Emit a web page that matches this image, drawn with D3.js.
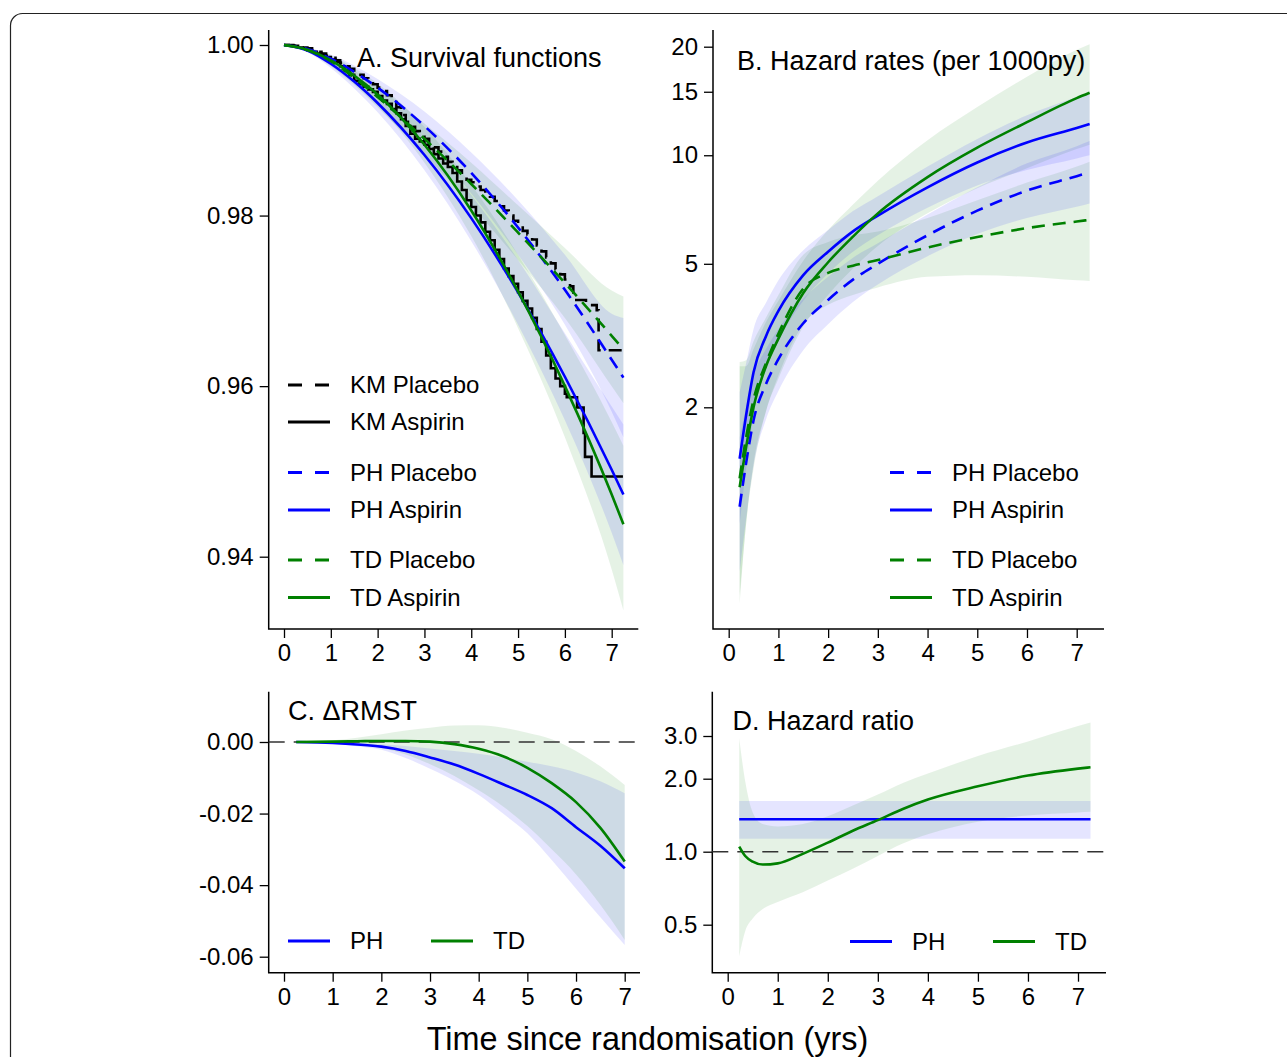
<!DOCTYPE html>
<meta charset="utf-8">
<style>
  body { margin: 0; background: #fff; }
  svg { font-family: "Liberation Sans", Arial, sans-serif; }
</style>
<svg width="1287" height="1057"></svg>
<script src="https://cdn.jsdelivr.net/npm/d3@7/dist/d3.min.js"></script>
<script>
    // ---------- data ----------
    // A. survival functions
    var survTime = [0, 0.5, 1, 1.5, 2, 3, 4, 5, 6, 7, 7.25];
    var phAspS   = [1, 0.99935, 0.9978, 0.99571, 0.9932, 0.9871, 0.9797, 0.9710, 0.9611, 0.9502, 0.9473];
    var phAspLo  = [1, 0.99915, 0.9973, 0.9949, 0.9921, 0.9853, 0.9770, 0.9672, 0.9560, 0.9428, 0.9390];
    var phAspHi  = [1, 0.99955, 0.9983, 0.9965, 0.9943, 0.9889, 0.9824, 0.9748, 0.9662, 0.9576, 0.9555];
    var phPlaS   = [1, 0.99952, 0.9984, 0.99684, 0.9950, 0.9905, 0.9850, 0.9786, 0.9713, 0.9631, 0.9610];
    var phPlaLo  = [1, 0.99935, 0.9979, 0.9961, 0.9940, 0.9888, 0.9826, 0.9754, 0.9672, 0.9570, 0.9540];
    var phPlaHi  = [1, 0.99969, 0.9989, 0.9976, 0.9960, 0.9922, 0.9874, 0.9818, 0.9754, 0.9685, 0.9680];
    var tdAspS   = [1, 0.99945, 0.9982, 0.99643, 0.9942, 0.9883, 0.9806, 0.9711, 0.9600, 0.9473, 0.9438];
    var tdAspLo  = [1, 0.9992, 0.9976, 0.9955, 0.9929, 0.9862, 0.9776, 0.9668, 0.9540, 0.9385, 0.9337];
    var tdAspHi  = [1, 0.9997, 0.9988, 0.9973, 0.9955, 0.9904, 0.9836, 0.9754, 0.9660, 0.9558, 0.9530];
    var tdPlaS   = [1, 0.9994, 0.9981, 0.99617, 0.9939, 0.9890, 0.9837, 0.9780, 0.9721, 0.9659, 0.9643];
    var tdPlaLo  = [1, 0.9992, 0.9975, 0.9953, 0.9927, 0.9872, 0.9812, 0.9748, 0.9680, 0.9600, 0.9580];
    var tdPlaHi  = [1, 0.9996, 0.9987, 0.9970, 0.9951, 0.9908, 0.9862, 0.9812, 0.9762, 0.9712, 0.9705];

    // Kaplan-Meier steps [time, survival]
    var kmAspirin = [[0,1],[0.1,0.99995],[0.2,0.9999],[0.3,0.9997],[0.4,0.9996],[0.5,0.9994],[0.6,0.9992],
        [0.7,0.9990],[0.8,0.9988],[0.9,0.9986],[1.0,0.9983],[1.1,0.9980],[1.2,0.9975],[1.3,0.9970],
        [1.4,0.9965],[1.5,0.9958],[1.6,0.9954],[1.7,0.9951],[1.8,0.9948],[1.9,0.9945],[2.0,0.9940],
        [2.1,0.9935],[2.2,0.9931],[2.3,0.9925],[2.4,0.9920],[2.5,0.9913],[2.6,0.9905],[2.7,0.9896],
        [2.8,0.9890],[2.9,0.9887],[3.0,0.9883],[3.1,0.9878],[3.2,0.9872],[3.3,0.9867],[3.4,0.9861],
        [3.5,0.9857],[3.6,0.9850],[3.7,0.9840],[3.8,0.9830],[3.9,0.9818],[4.0,0.9810],[4.1,0.9800],
        [4.2,0.9792],[4.3,0.9781],[4.4,0.9771],[4.5,0.9760],[4.6,0.9749],[4.7,0.9738],[4.8,0.9729],
        [4.9,0.9720],[5.0,0.9710],[5.1,0.9700],[5.2,0.9691],[5.3,0.9680],[5.4,0.9667],[5.5,0.9652],
        [5.6,0.9636],[5.7,0.9621],[5.8,0.9609],[5.9,0.9600],[6.0,0.9591],[6.04,0.9587],[6.26,0.9575],
        [6.40,0.9545],[6.43,0.9517],[6.57,0.9494],[7.24,0.9494]];
    var kmPlacebo = [[0,1],[0.1,0.99998],[0.2,0.9999],[0.3,0.9998],[0.4,0.9997],[0.5,0.9996],[0.6,0.9994],
        [0.7,0.9992],[0.8,0.9990],[0.9,0.9987],[1.0,0.9985],[1.1,0.9982],[1.2,0.9979],[1.3,0.9975],
        [1.4,0.9972],[1.5,0.9968],[1.6,0.9965],[1.7,0.9961],[1.8,0.9957],[1.9,0.9954],[2.0,0.9950],
        [2.1,0.9946],[2.2,0.9941],[2.3,0.9935],[2.4,0.9927],[2.5,0.9918],[2.6,0.9910],[2.7,0.9904],
        [2.8,0.9899],[2.9,0.9895],[3.0,0.9890],[3.1,0.9885],[3.2,0.9880],[3.3,0.9875],[3.4,0.9869],
        [3.5,0.9863],[3.6,0.9859],[3.7,0.9853],[3.8,0.9848],[3.9,0.9842],[4.0,0.9839],[4.1,0.9834],
        [4.2,0.9830],[4.3,0.9826],[4.4,0.9822],[4.5,0.9817],[4.6,0.9811],[4.7,0.9806],[4.8,0.9800],
        [4.9,0.9794],[5.0,0.9788],[5.1,0.9782],[5.2,0.9778],[5.3,0.9772],[5.4,0.9765],[5.5,0.9758],
        [5.6,0.9751],[5.7,0.9744],[5.8,0.9737],[5.9,0.9731],[6.0,0.9725],[6.11,0.9717],[6.18,0.9701],
        [6.45,0.9695],[6.68,0.9689],[6.72,0.9642],[7.25,0.9642]];

    // B. hazard rates per 1000py
    var hazTime  = [0.22, 0.35, 0.5, 0.75, 1, 1.5, 2, 2.5, 3, 4, 5, 6, 7, 7.26];
    var hzPhAsp   = [1.44, 1.9, 2.5, 3.15, 3.7, 4.65, 5.4, 6.15, 6.8, 8.15, 9.55, 10.85, 11.9, 12.2];
    var hzPhAspLo = [0.95, 1.35, 1.9, 2.55, 3.05, 3.95, 4.7, 5.4, 6.0, 7.15, 8.25, 9.1, 9.8, 10.0];
    var hzPhAspHi = [2.2, 2.65, 3.3, 3.9, 4.5, 5.45, 6.2, 7.0, 7.7, 9.3, 11.1, 12.9, 14.5, 14.9];
    var hzPhPla   = [1.06, 1.4, 1.84, 2.32, 2.72, 3.42, 3.97, 4.52, 5.0, 6.0, 7.02, 7.98, 8.75, 8.97];
    var hzPhPlaLo = [0.7, 0.98, 1.38, 1.85, 2.22, 2.88, 3.4, 3.92, 4.38, 5.25, 6.05, 6.7, 7.2, 7.35];
    var hzPhPlaHi = [1.65, 2.0, 2.45, 2.9, 3.3, 4.0, 4.6, 5.2, 5.7, 6.85, 8.15, 9.5, 10.6, 10.95];
    var hzTdAsp   = [1.2, 1.55, 2.0, 2.6, 3.1, 4.15, 5.05, 5.95, 6.9, 8.7, 10.5, 12.35, 14.4, 14.9];
    var hzTdAspLo = [0.6, 0.95, 1.35, 1.95, 2.4, 3.35, 4.1, 4.85, 5.6, 6.9, 8.1, 9.2, 10.4, 10.7];
    var hzTdAspHi = [2.6, 2.6, 2.9, 3.45, 3.95, 5.1, 6.2, 7.3, 8.5, 11.0, 13.6, 16.5, 19.6, 20.3];
    var hzTdPla   = [1.27, 1.65, 2.1, 2.65, 3.2, 4.27, 4.72, 4.94, 5.12, 5.55, 5.93, 6.28, 6.55, 6.62];
    var hzTdPlaLo = [0.57, 0.95, 1.4, 1.95, 2.45, 3.4, 3.85, 4.1, 4.3, 4.6, 4.65, 4.6, 4.5, 4.48];
    var hzTdPlaHi = [2.67, 2.7, 3.05, 3.55, 4.1, 5.3, 5.75, 6.0, 6.15, 6.7, 7.5, 8.4, 9.3, 9.6];

    // C. difference in RMST
    var rmstTime = [0.25, 1, 1.5, 2, 2.5, 3, 3.5, 4, 4.5, 5, 5.5, 6, 6.5, 7];
    var rmstPh   = [0, -0.0003, -0.0007, -0.0013, -0.0025, -0.0043, -0.0063, -0.0089, -0.0118, -0.0148, -0.0185, -0.0238, -0.0290, -0.0353];
    var rmstPhLo = [0, -0.0005, -0.0012, -0.0022, -0.0045, -0.0075, -0.0108, -0.0148, -0.0200, -0.0255, -0.0330, -0.0410, -0.0490, -0.0567];
    var rmstPhHi = [0, -0.0001, -0.0003, -0.0006, -0.0011, -0.0018, -0.0025, -0.0033, -0.0043, -0.0055, -0.0068, -0.0085, -0.0110, -0.0143];
    var rmstTd   = [0, 0.0001, 0.0002, 0.0003, 0.0003, 0.0001, -0.0006, -0.0019, -0.0040, -0.0072, -0.0115, -0.0168, -0.0240, -0.0334];
    var rmstTdLo = [0, -0.0003, -0.0008, -0.0017, -0.0035, -0.0062, -0.0095, -0.0135, -0.0180, -0.0235, -0.0300, -0.0370, -0.0455, -0.0553];
    var rmstTdHi = [0, 0.0005, 0.0012, 0.0022, 0.0032, 0.0040, 0.0046, 0.0047, 0.0040, 0.0026, 0.0008, -0.0025, -0.0068, -0.0120];

    // D. hazard ratio
    var hrPhTime = [0.23, 7.25];
    var hrPh     = [1.36, 1.36];
    var hrPhLo   = [1.13, 1.13];
    var hrPhHi   = [1.62, 1.62];
    var hrTdTime = [0.23, 0.35, 0.5, 0.7, 1, 1.5, 2, 2.5, 3, 3.5, 4, 5, 6, 7, 7.25];
    var hrTd     = [1.05, 0.96, 0.91, 0.885, 0.895, 0.98, 1.09, 1.22, 1.35, 1.5, 1.64, 1.86, 2.06, 2.2, 2.23];
    var hrTdLo   = [0.37, 0.47, 0.53, 0.58, 0.62, 0.68, 0.76, 0.85, 0.96, 1.08, 1.18, 1.33, 1.41, 1.45, 1.46];
    var hrTdHi   = [2.94, 1.95, 1.45, 1.3, 1.27, 1.3, 1.4, 1.55, 1.72, 1.92, 2.1, 2.48, 2.85, 3.3, 3.41];

    // ticks
    var xTicks = [0, 1, 2, 3, 4, 5, 6, 7];
    var yTicksA = [1.00, 0.98, 0.96, 0.94], yLabelsA = ['1.00', '0.98', '0.96', '0.94'];
    var yTicksB = [20, 15, 10, 5, 2], yLabelsB = ['20', '15', '10', '5', '2'];
    var yTicksC = [0, -0.02, -0.04, -0.06], yLabelsC = ['0.00', '-0.02', '-0.04', '-0.06'];
    var yTicksD = [3, 2, 1, 0.5], yLabelsD = ['3.0', '2.0', '1.0', '0.5'];

    // ---------- drawing ----------
    var BLUE = '#0000ff', GREEN = '#008000';
    var svg = d3.select('svg');

    // outer rounded frame
    svg.append('rect')
        .attr('x', 10.5).attr('y', 13.5).attr('width', 1320).attr('height', 1100)
        .attr('rx', 12).attr('fill', 'none').attr('stroke', '#222').attr('stroke-width', 1.2);

    function zip(t, v) { return t.map(function (d, i) { return [d, v[i]]; }); }
    function zip3(t, lo, hi) { return t.map(function (d, i) { return [d, lo[i], hi[i]]; }); }

    // one panel: frame, axes and helpers
    function makePanel(box, x, y, yTicks, yLabels) {
        var g = svg.append('g');
        g.append('g').attr('transform', 'translate(' + box.x0 + ',0)')
            .call(d3.axisLeft(y).tickValues(yTicks).tickFormat(function (d, i) { return yLabels[i]; })
                .tickSize(9).tickPadding(6).tickSizeOuter(0))
            .call(styleAxis);
        g.append('g').attr('transform', 'translate(0,' + box.y1 + ')')
            .call(d3.axisBottom(x).tickValues(xTicks).tickFormat(d3.format('d'))
                .tickSize(9).tickPadding(6).tickSizeOuter(0))
            .call(styleAxis);
        g.append('path')
            .attr('d', 'M' + box.x0 + ',' + box.y0 + 'V' + box.y1 + 'H' + box.x1)
            .attr('fill', 'none').attr('stroke', '#000').attr('stroke-width', 1.5);
        var plot = g.append('g');
        return {
            band: function (data, color) {
                plot.append('path').datum(data)
                    .attr('fill', color).attr('fill-opacity', 0.1).attr('stroke', 'none')
                    .attr('d', d3.area().curve(d3.curveMonotoneX)
                        .x(function (d) { return x(d[0]); })
                        .y0(function (d) { return y(d[1]); })
                        .y1(function (d) { return y(d[2]); }));
            },
            line: function (data, color, dashed, curve) {
                plot.append('path').datum(data)
                    .attr('fill', 'none').attr('stroke', color).attr('stroke-width', 2.6)
                    .attr('stroke-dasharray', dashed ? '13,8' : null)
                    .attr('d', d3.line().curve(curve || d3.curveMonotoneX)
                        .x(function (d) { return x(d[0]); })
                        .y(function (d) { return y(d[1]); }));
            },
            refLine: function (v) {
                plot.append('line')
                    .attr('x1', box.x0).attr('x2', box.x1).attr('y1', y(v)).attr('y2', y(v))
                    .attr('stroke', '#333').attr('stroke-width', 1.5).attr('stroke-dasharray', '16,9');
            }
        };
    }

    function styleAxis(a) {
        a.select('.domain').remove();
        a.attr('font-size', 24).attr('font-family', '"Liberation Sans", Arial, sans-serif');
        a.selectAll('.tick line').attr('stroke', '#000').attr('stroke-width', 1.3);
        a.selectAll('.tick text').attr('fill', '#000');
    }

    function title(txt, x, y) {
        svg.append('text').attr('x', x).attr('y', y).attr('font-size', 27).text(txt);
    }

    function legend(items) {
        items.forEach(function (it) {
            svg.append('line')
                .attr('x1', it.x).attr('x2', it.x + 42).attr('y1', it.y).attr('y2', it.y)
                .attr('stroke', it.color).attr('stroke-width', 3)
                .attr('stroke-dasharray', it.dashed ? '14,13' : null);
            svg.append('text').attr('x', it.x + 62).attr('y', it.y).attr('dy', '0.35em')
                .attr('font-size', 24).text(it.label);
        });
    }

    // ----- panel A -----
    var xA = d3.scaleLinear().domain([0, 7]).range([284, 611.7]);
    var yA = d3.scaleLinear().domain([0.94, 1]).range([556.7, 45]);
    var pA = makePanel({x0: 268.7, x1: 638.3, y0: 30, y1: 629}, xA, yA, yTicksA, yLabelsA);
    pA.band(zip3(survTime, tdPlaLo, tdPlaHi), GREEN);
    pA.band(zip3(survTime, tdAspLo, tdAspHi), GREEN);
    pA.band(zip3(survTime, phPlaLo, phPlaHi), BLUE);
    pA.band(zip3(survTime, phAspLo, phAspHi), BLUE);
    pA.line(kmPlacebo, '#000', true, d3.curveStepAfter);
    pA.line(kmAspirin, '#000', false, d3.curveStepAfter);
    pA.line(zip(survTime, phPlaS), BLUE, true);
    pA.line(zip(survTime, phAspS), BLUE, false);
    pA.line(zip(survTime, tdPlaS), GREEN, true);
    pA.line(zip(survTime, tdAspS), GREEN, false);
    title('A. Survival functions', 357, 67);
    legend([
        {label: 'KM Placebo', color: '#000', dashed: true, x: 288, y: 385},
        {label: 'KM Aspirin', color: '#000', dashed: false, x: 288, y: 422},
        {label: 'PH Placebo', color: BLUE, dashed: true, x: 288, y: 472.5},
        {label: 'PH Aspirin', color: BLUE, dashed: false, x: 288, y: 510},
        {label: 'TD Placebo', color: GREEN, dashed: true, x: 288, y: 560},
        {label: 'TD Aspirin', color: GREEN, dashed: false, x: 288, y: 597.5}
    ]);

    // ----- panel B -----
    var xB = d3.scaleLinear().domain([0, 7]).range([728.7, 1076.7]);
    var yB = d3.scaleLog().domain([2, 20]).range([407.3, 46.7]);
    var pB = makePanel({x0: 713, x1: 1104, y0: 30, y1: 629}, xB, yB, yTicksB, yLabelsB);
    pB.band(zip3(hazTime, hzTdPlaLo, hzTdPlaHi), GREEN);
    pB.band(zip3(hazTime, hzTdAspLo, hzTdAspHi), GREEN);
    pB.band(zip3(hazTime, hzPhPlaLo, hzPhPlaHi), BLUE);
    pB.band(zip3(hazTime, hzPhAspLo, hzPhAspHi), BLUE);
    pB.line(zip(hazTime, hzPhPla), BLUE, true);
    pB.line(zip(hazTime, hzPhAsp), BLUE, false);
    pB.line(zip(hazTime, hzTdPla), GREEN, true);
    pB.line(zip(hazTime, hzTdAsp), GREEN, false);
    title('B. Hazard rates (per 1000py)', 737, 69.5);
    legend([
        {label: 'PH Placebo', color: BLUE, dashed: true, x: 890, y: 472.5},
        {label: 'PH Aspirin', color: BLUE, dashed: false, x: 890, y: 510},
        {label: 'TD Placebo', color: GREEN, dashed: true, x: 890, y: 560},
        {label: 'TD Aspirin', color: GREEN, dashed: false, x: 890, y: 597.5}
    ]);

    // ----- panel C -----
    var xC = d3.scaleLinear().domain([0, 7]).range([284, 624.7]);
    var yC = d3.scaleLinear().domain([-0.06, 0]).range([956.7, 742]);
    var pC = makePanel({x0: 268.7, x1: 640, y0: 691.7, y1: 972.7}, xC, yC, yTicksC, yLabelsC);
    pC.band(zip3(rmstTime, rmstPhLo, rmstPhHi), BLUE);
    pC.band(zip3(rmstTime, rmstTdLo, rmstTdHi), GREEN);
    pC.refLine(0);
    pC.line(zip(rmstTime, rmstPh), BLUE, false);
    pC.line(zip(rmstTime, rmstTd), GREEN, false);
    title('C. \u0394RMST', 288, 720);
    legend([
        {label: 'PH', color: BLUE, dashed: false, x: 288, y: 941},
        {label: 'TD', color: GREEN, dashed: false, x: 431, y: 941}
    ]);

    // ----- panel D -----
    var xD = d3.scaleLinear().domain([0, 7]).range([727.7, 1078]);
    var yD = d3.scaleLog().domain([1, 3]).range([851.7, 736]);
    var pD = makePanel({x0: 712.3, x1: 1106, y0: 691.7, y1: 972.7}, xD, yD, yTicksD, yLabelsD);
    pD.band(zip3(hrPhTime, hrPhLo, hrPhHi), BLUE);
    pD.band(zip3(hrTdTime, hrTdLo, hrTdHi), GREEN);
    pD.refLine(1);
    pD.line(zip(hrPhTime, hrPh), BLUE, false, d3.curveLinear);
    pD.line(zip(hrTdTime, hrTd), GREEN, false);
    title('D. Hazard ratio', 732.5, 729.5);
    legend([
        {label: 'PH', color: BLUE, dashed: false, x: 850, y: 941.5},
        {label: 'TD', color: GREEN, dashed: false, x: 993, y: 941.5}
    ]);

    // shared x-axis title
    svg.append('text').attr('x', 647.5).attr('y', 1049.5).attr('text-anchor', 'middle')
        .attr('font-size', 32.4).text('Time since randomisation (yrs)');
</script>
